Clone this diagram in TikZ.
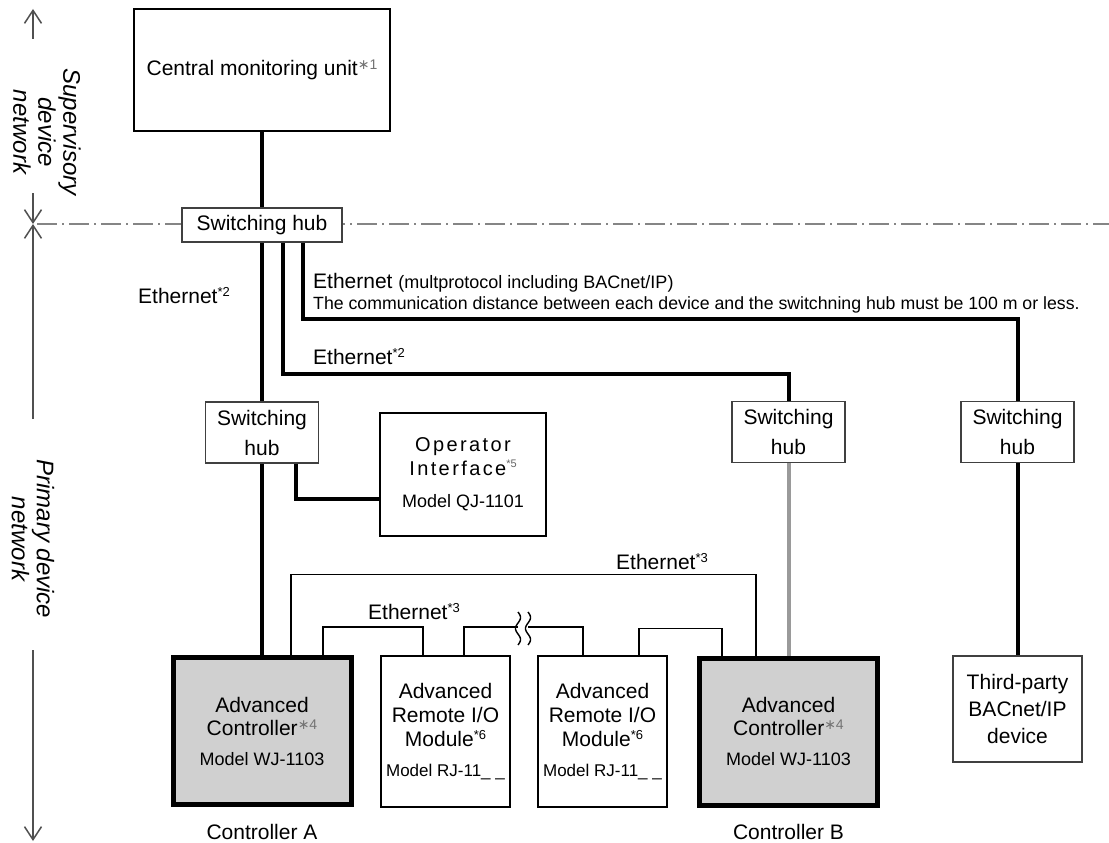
\documentclass[tikz,border=0pt]{standalone}
\usepackage{fontspec}
\setmainfont{Liberation Sans}
\newfontfamily\djv{DejaVu Sans}
\usetikzlibrary{arrows.meta,calc}
\definecolor{boxgray}{HTML}{D0D0D0}
\definecolor{axisgray}{HTML}{505050}
\definecolor{dashgray}{HTML}{858585}
\definecolor{linkgray}{HTML}{9A9A9A}
\newcommand{\astnote}[1]{\raisebox{6pt}{\fontsize{14}{14}\selectfont\color{black!55}{\djv ∗}#1}}
\newcommand{\starnote}[1]{\raisebox{7pt}{\fontsize{13}{13}\selectfont *#1}}
\newcommand{\tinynote}[1]{\raisebox{8pt}{\fontsize{11}{11}\selectfont\color{black!60}*#1}}
\newcommand{\lsp}[1]{{\addfontfeatures{LetterSpace=12}#1}}
\begin{document}
\begin{tikzpicture}[x=1pt,y=-1pt,
  txt/.style={font=\fontsize{21}{25}\selectfont, align=center, inner sep=0pt},
  hubbox/.style={txt, font=\fontsize{21}{30}\selectfont, draw=black!75, line width=1.3pt, fill=white, minimum width=113pt, minimum height=61pt},
  ctrlbox/.style={txt, font=\fontsize{21}{23}\selectfont, draw=black, line width=5pt, fill=boxgray, minimum width=178pt, minimum height=147pt},
  riobox/.style={txt, font=\fontsize{21}{24}\selectfont, draw=black, line width=2pt, fill=white, minimum width=129pt, minimum height=151pt},
  plainbox/.style={txt, draw=black, line width=1.8pt, fill=white},
  thickline/.style={line width=4pt},
  thinline/.style={line width=1.8pt},
  axis/.style={draw=axisgray, line width=1.5pt, -{Straight Barb[length=13pt,width=17pt]}},
  sidelbl/.style={txt, font=\fontsize{24}{25}\selectfont\itshape, rotate=-90},
]
\useasboundingbox (0,0) rectangle (1109,843);

% boundary dash-dot line
\draw[dashgray, line width=1.2pt, dash pattern=on 20pt off 5pt on 2pt off 5pt] (37,224) -- (1109,224);

% left axis
\coordinate (a1) at (33,39);
\coordinate (a1t) at (33,9);
\coordinate (a2) at (33,193);
\coordinate (am) at (33,224);
\coordinate (a3) at (33,419);
\coordinate (a4) at (33,650);
\coordinate (a4t) at (33,841);
\draw[axis] (a1) -- (a1t);
\draw[axis] (a2) -- (am);
\draw[axis] (a3) -- (am);
\draw[axis] (a4) -- (a4t);
\node[sidelbl] (sup) at (47,132) {Supervisory\\device\\network};
\node[sidelbl] (pri) at (33,539) {Primary device\\network};

% nodes
\node[plainbox, line width=2pt, minimum width=256pt, minimum height=122pt] (cmu) at (262,70) {Central monitoring unit\astnote{1}};
\node[hubbox, minimum width=160pt, minimum height=34pt, font=\fontsize{21}{25}\selectfont] (hub0) at (262,225) {Switching hub};
\node[hubbox] (hubA) at (262,432.5) {Switching\\hub};
\node[hubbox] (hubB) at (788.5,432) {Switching\\hub};
\node[hubbox] (hubC) at (1017.5,432) {Switching\\hub};
\node[plainbox, font=\fontsize{20}{24}\selectfont, minimum width=166pt, minimum height=123pt] (opi) at (463,474.5)
  {\lsp{Operator}\\\lsp{Interface}\tinynote{5}\\[8pt]{\fontsize{18}{18}\selectfont Model QJ-1101}};
\node[ctrlbox] (ctrlA) at (262,731) {Advanced\\Controller\astnote{4}\\[7pt]{\fontsize{18}{18}\selectfont Model WJ-1103}};
\node[riobox] (rio1) at (445.5,731.5) {Advanced\\Remote I/O\\Module\starnote{6}\\[6pt]{\fontsize{17}{17}\selectfont Model RJ-11\_ \_}};
\node[riobox] (rio2) at (602.5,731.5) {Advanced\\Remote I/O\\Module\starnote{6}\\[6pt]{\fontsize{17}{17}\selectfont Model RJ-11\_ \_}};
\node[ctrlbox] (ctrlB) at (788.5,731.5) {Advanced\\Controller\astnote{4}\\[7pt]{\fontsize{18}{18}\selectfont Model WJ-1103}};
\node[plainbox, line width=1.3pt, draw=black!75, font=\fontsize{21}{27}\selectfont, minimum width=129pt, minimum height=106pt] (tp) at (1017.5,709) {Third-party\\BACnet/IP\\device};

\node[txt] (ctrlAlbl) at (262,832) {Controller A};
\node[txt] (ctrlBlbl) at (788.5,832) {Controller B};

% labels
\node[txt, anchor=west] (eth2a) at (138,296) {Ethernet\starnote{2}};
\node[txt, anchor=west] (ethmp) at (313,283) {Ethernet {\fontsize{18}{18}\selectfont(multprotocol including BACnet/IP)}};
\node[txt, anchor=west, font=\fontsize{17.7}{20}\selectfont] (dist) at (313,305) {The communication distance between each device and the switchning hub must be 100 m or less.};
\node[txt, anchor=west] (eth2b) at (313,357) {Ethernet\starnote{2}};
\node[txt] (eth3a) at (662,562) {Ethernet\starnote{3}};
\node[txt] (eth3b) at (414,612) {Ethernet\starnote{3}};

% thick connectors
\draw[thickline] (cmu.south) -- (hub0.north);
\draw[thickline] (hub0.south) -- (hubA.north);
\draw[thickline] (hubA.south) -- (ctrlA.north);
\draw[thickline] ($(hub0.south)+(21,0)$) |- ($(hubB.north)+(0,-27)$) -- (hubB.north);
\draw[thickline] ($(hub0.south)+(41,0)$) |- ($(hubC.north)+(0,-82)$) -- (hubC.north);
\draw[thickline] ($(hubA.south)+(34,0)$) |- ($(opi.west)+(0,24.5)$);
\draw[thickline, linkgray] (hubB.south) -- (ctrlB.north);
\draw[thickline] (hubC.south) -- (tp.north);

% thin ethernet connectors
\draw[thinline] ($(ctrlA.north)+(29,0)$) |- ($(ctrlB.north)+(-32.5,-81)$) -- ($(ctrlB.north)+(-32.5,0)$);
\draw[thinline] ($(ctrlA.north)+(61,0)$) |- ($(rio1.north)+(-22.5,-28)$) -- ($(rio1.north)+(-22.5,0)$);
\draw[thinline] ($(rio1.north)+(18.5,0)$) |- ($(rio2.north)+(-19.5,-28)$) -- ($(rio2.north)+(-19.5,0)$);
\draw[thinline] ($(rio2.north)+(36.5,0)$) |- ($(ctrlB.north)+(-66.5,-27)$) -- ($(ctrlB.north)+(-66.5,0)$);

% break mark
\fill[white] (518,624) rectangle (528,632);
\draw[line width=1.4pt] plot[domain=0:1,samples=40,smooth] ({518+2.5*sin(540*\x)}, {612+33*\x});
\draw[line width=1.4pt] plot[domain=0:1,samples=40,smooth] ({528+2.5*sin(540*\x)}, {612+33*\x});
\end{tikzpicture}
\end{document}
